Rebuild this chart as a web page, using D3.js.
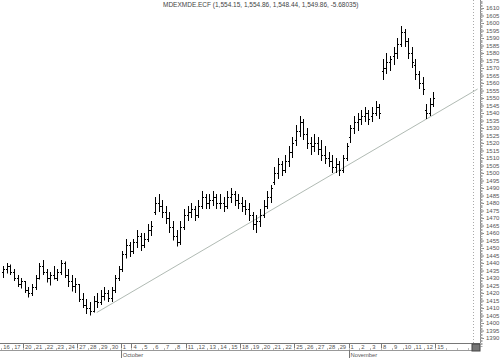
<!DOCTYPE html>
<html>
<head>
<meta charset="utf-8">
<script src="https://cdn.jsdelivr.net/npm/d3@7"></script>
<style>
  body { margin: 0; background: #fff; }
  svg text { font-family: "Liberation Sans Narrow", "Liberation Sans", Arial, sans-serif; }
</style>
</head>
<body>
<div id="chart"></div>
<script>
// trading days on the axis (Nov 4-5 have no data)
const dayLabels = ["16","17","20","21","22","23","24","27","28","29","30",
  "1","4","5","6","7","8","11","12","13","14","15","18","19","20","21","22","25","26","27","28","29",
  "1","2","3","8","9","10","11","12","15"];
// index of the first day of each week (separators)
const weekStarts = [2, 7, 12, 17, 22, 27, 32, 35, 40];
const months = [{ name: "October", start: 11 }, { name: "November", start: 32 }];

const priceTicks = d3.range(1390, 1611, 5);

// three bars per trading day, Sep 16 .. Nov 12
const opens = [
  1434,1436,1438, 1434,1430,1426, 1428,1422,1420, 1424,1430,1438, 1434,1430,1432, 1430,1434,1440,
  1432,1428,1425, 1426,1416,1412, 1410,1408,1415, 1414,1418,1420, 1417,1422,1430,
  1436,1446,1452, 1448,1454,1458, 1452,1456,1462, 1474,1480,1478, 1474,1470,1464,
  1458,1454,1464, 1472,1474,1476, 1472,1478,1484, 1480,1482,1484, 1480,1480,1478,
  1484,1486,1482, 1480,1478,1476, 1472,1466,1468, 1472,1478,1484, 1494,1500,1506,
  1502,1508,1514, 1522,1528,1534, 1526,1520,1518, 1520,1516,1512, 1510,1508,1504,
  1506,1502,1510, 1524,1530,1534, 1536,1538,1540, 1538,1540,1544, 1568,1570,1574,
  1578,1580,1586, 1594,1588,1580, 1572,1566,1560, 1542,1540,1546
];
const highs = [
  1438,1440,1439, 1436,1432,1430, 1428,1424,1426, 1432,1440,1442, 1436,1434,1438, 1436,1442,1441,
  1436,1432,1430, 1426,1420,1416, 1414,1418,1420, 1422,1424,1422, 1424,1432,1438,
  1448,1456,1454, 1456,1462,1460, 1460,1466,1468, 1484,1486,1482, 1478,1474,1468,
  1462,1468,1476, 1478,1480,1478, 1482,1488,1486, 1486,1488,1486, 1486,1484,1488,
  1490,1488,1486, 1484,1482,1480, 1474,1472,1476, 1482,1488,1492, 1504,1510,1508,
  1512,1518,1524, 1532,1538,1536, 1530,1524,1526, 1524,1522,1518, 1514,1512,1510,
  1508,1512,1520, 1532,1538,1540, 1542,1544,1542, 1544,1548,1546, 1576,1580,1578,
  1584,1590,1598, 1596,1590,1584, 1576,1568,1564, 1546,1550,1554
];
const lows = [
  1430,1433,1432, 1428,1424,1423, 1420,1417,1418, 1422,1429,1432, 1427,1425,1429, 1428,1432,1430,
  1424,1421,1420, 1414,1410,1406, 1405,1407,1410, 1412,1415,1414, 1414,1420,1428,
  1434,1443,1444, 1446,1450,1448, 1450,1454,1458, 1472,1474,1470, 1466,1460,1455,
  1451,1452,1462, 1468,1470,1468, 1470,1476,1476, 1476,1478,1476, 1476,1474,1476,
  1480,1478,1476, 1474,1472,1468, 1462,1460,1464, 1470,1476,1480, 1492,1496,1498,
  1500,1504,1510, 1518,1524,1522, 1516,1512,1514, 1512,1508,1506, 1504,1500,1500,
  1498,1500,1508, 1520,1526,1528, 1532,1534,1532, 1534,1538,1536, 1562,1566,1568,
  1572,1576,1584, 1584,1576,1570, 1562,1556,1552, 1536,1538,1544
];
const closes = [
  1436,1438,1434, 1430,1426,1428, 1422,1420,1424, 1430,1438,1434, 1430,1432,1430, 1434,1440,1432,
  1428,1425,1426, 1416,1412,1410, 1408,1415,1414, 1418,1420,1417, 1422,1430,1436,
  1446,1452,1448, 1454,1458,1452, 1456,1462,1465, 1480,1478,1474, 1470,1464,1458,
  1454,1464,1472, 1474,1476,1472, 1478,1484,1480, 1482,1484,1480, 1480,1478,1484,
  1486,1482,1480, 1478,1476,1472, 1466,1468,1472, 1478,1484,1490, 1500,1506,1502,
  1508,1514,1520, 1528,1534,1526, 1520,1518,1520, 1516,1512,1510, 1508,1504,1506,
  1502,1510,1518, 1530,1534,1536, 1538,1540,1536, 1540,1544,1540, 1570,1574,1576,
  1580,1586,1594, 1588,1580,1574, 1566,1560,1556, 1540,1546,1550
];
const barsPerDay = 3;

// support line drawn on the chart: [day position, price]
const trendStart = [8.8, 1407];
const trendEnd = [43.9, 1556];

const title = "MDEXMDE.ECF (1,554.15, 1,554.86, 1,548.44, 1,549.86, -5.68035)";

const width = 500, height = 358;
const plotBottom = 343, axisX = 480;

const svg = d3.select("#chart").append("svg")
    .attr("width", width)
    .attr("height", height);

svg.append("rect").attr("width", width).attr("height", height).attr("fill", "#fff");

const x = d3.scaleLinear().domain([0, 44]).range([1.3, 1.3 + 44 * 10.85]);
const y = d3.scaleLinear().domain([1390, 1610]).range([338, 8]);

// dotted right edge of the plot
svg.append("line")
    .attr("x1", 473.5).attr("x2", 473.5)
    .attr("y1", 0).attr("y2", plotBottom)
    .attr("stroke", "#aaa")
    .attr("stroke-dasharray", "1,2");

// title
svg.append("text")
    .attr("x", 163).attr("y", 7)
    .attr("font-size", 6.5)
    .attr("fill", "#444")
    .text(title);

// right price axis
const yAxis = d3.axisRight(y)
    .tickValues(priceTicks)
    .tickSize(4)
    .tickFormat(d3.format("d"));

const yAxisG = svg.append("g")
    .attr("transform", `translate(${axisX},0)`)
    .call(yAxis);
yAxisG.select(".domain").attr("stroke", "#888").attr("d", `M0.5,0V${plotBottom}`);
yAxisG.selectAll(".tick line").attr("stroke", "#888");
yAxisG.selectAll(".tick text")
    .attr("x", 6)
    .attr("font-size", 6)
    .attr("fill", "#555");

// minor ticks every point
yAxisG.selectAll(".minor")
    .data(d3.range(1385, 1616, 1))
    .enter().append("line")
    .attr("class", "minor")
    .attr("x1", 0.5).attr("x2", 2.5)
    .attr("y1", d => Math.round(y(d)) + 0.5)
    .attr("y2", d => Math.round(y(d)) + 0.5)
    .attr("stroke", "#aaa");

// bottom date strip
const strip = svg.append("g").attr("class", "date-strip");
strip.append("line")
    .attr("x1", 0).attr("x2", axisX)
    .attr("y1", plotBottom + 0.5).attr("y2", plotBottom + 0.5)
    .attr("stroke", "#777");
strip.append("line")
    .attr("x1", 0).attr("x2", axisX)
    .attr("y1", plotBottom + 7.5).attr("y2", plotBottom + 7.5)
    .attr("stroke", "#999");

strip.selectAll(".sep")
    .data(weekStarts.concat(months.map(m => m.start)))
    .enter().append("line")
    .attr("class", "sep")
    .attr("x1", d => Math.round(x(d)) + 0.5)
    .attr("x2", d => Math.round(x(d)) + 0.5)
    .attr("y1", plotBottom)
    .attr("y2", plotBottom + 7)
    .attr("stroke", "#777");

strip.selectAll(".minor-day")
    .data(d3.range(0, 44))
    .enter().append("line")
    .attr("class", "minor-day")
    .attr("x1", d => Math.round(x(d)) + 0.5)
    .attr("x2", d => Math.round(x(d)) + 0.5)
    .attr("y1", plotBottom + 5)
    .attr("y2", plotBottom + 7)
    .attr("stroke", "#bbb");

strip.selectAll(".day")
    .data(dayLabels)
    .enter().append("text")
    .attr("class", "day")
    .attr("x", (d, i) => x(i) + 2)
    .attr("y", plotBottom + 6.3)
    .attr("font-size", 5.8)
    .attr("fill", "#555")
    .text(d => d);

strip.selectAll(".month-sep")
    .data(months)
    .enter().append("line")
    .attr("class", "month-sep")
    .attr("x1", d => Math.round(x(d.start)) + 0.5)
    .attr("x2", d => Math.round(x(d.start)) + 0.5)
    .attr("y1", plotBottom + 7)
    .attr("y2", height)
    .attr("stroke", "#777");

strip.selectAll(".month")
    .data(months)
    .enter().append("text")
    .attr("class", "month")
    .attr("x", d => x(d.start) + 2)
    .attr("y", plotBottom + 13.5)
    .attr("font-size", 5.8)
    .attr("fill", "#555")
    .text(d => d.name);

// little scroll box at the bottom right corner
svg.append("rect")
    .attr("x", 472).attr("y", plotBottom + 1)
    .attr("width", 8).attr("height", 7)
    .attr("fill", "#777").attr("stroke", "#444");

// trend line
svg.append("line")
    .attr("x1", x(trendStart[0])).attr("y1", y(trendStart[1]))
    .attr("x2", x(trendEnd[0])).attr("y2", y(trendEnd[1]))
    .attr("stroke", "#8e9c92")
    .attr("stroke-width", 0.7);

// OHLC bars
const bars = opens.map((o, i) => ({
    pos: Math.floor(i / barsPerDay) + (i % barsPerDay + 0.5) / barsPerDay,
    open: o, high: highs[i], low: lows[i], close: closes[i]
}));

const barG = svg.append("g").attr("class", "bars")
    .selectAll("g").data(bars).enter().append("g");

barG.append("line")
    .attr("x1", d => Math.round(x(d.pos)) + 0.5)
    .attr("x2", d => Math.round(x(d.pos)) + 0.5)
    .attr("y1", d => y(d.high))
    .attr("y2", d => y(d.low))
    .attr("stroke", "#000");
barG.append("line")
    .attr("x1", d => Math.round(x(d.pos)) - 1)
    .attr("x2", d => Math.round(x(d.pos)))
    .attr("y1", d => Math.round(y(d.open)) + 0.5)
    .attr("y2", d => Math.round(y(d.open)) + 0.5)
    .attr("stroke", "#000");
barG.append("line")
    .attr("x1", d => Math.round(x(d.pos)) + 1)
    .attr("x2", d => Math.round(x(d.pos)) + 2)
    .attr("y1", d => Math.round(y(d.close)) + 0.5)
    .attr("y2", d => Math.round(y(d.close)) + 0.5)
    .attr("stroke", "#000");
</script>
</body>
</html>
